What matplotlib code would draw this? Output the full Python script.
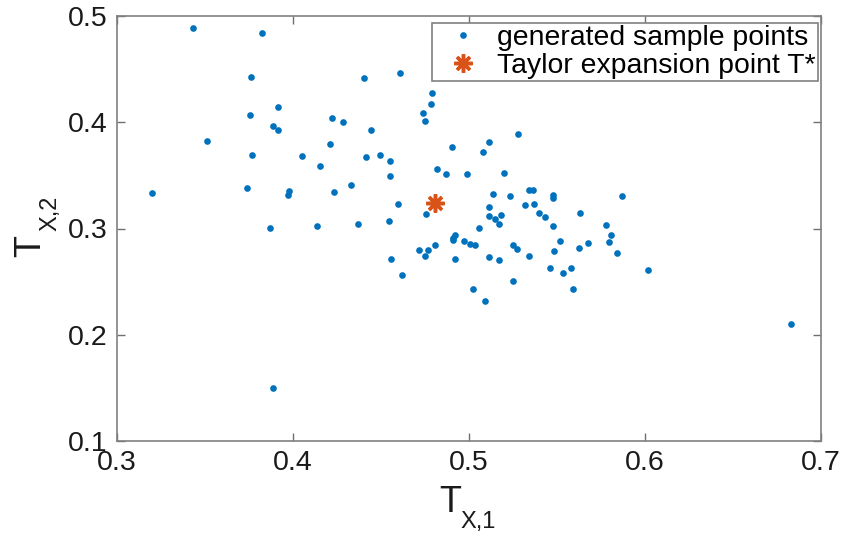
import numpy as np
import matplotlib
matplotlib.use("Agg")
import matplotlib.pyplot as plt

plt.rcParams['font.family'] = ['Liberation Sans', 'DejaVu Sans']

# sample points
tx1 = [0.3432, 0.3822, 0.3763, 0.3915, 0.3756, 0.4220, 0.4282, 0.3888, 0.3917, 0.3513,
       0.4208, 0.3767, 0.4051, 0.4153, 0.4327, 0.3197, 0.3739, 0.3979, 0.3973, 0.4235,
       0.3869, 0.4138, 0.4405, 0.4606, 0.4790, 0.4782, 0.4740, 0.4748, 0.4443, 0.5280,
       0.5112, 0.4905, 0.5080, 0.4417, 0.4494, 0.4553, 0.4553, 0.4818, 0.4869, 0.4990,
       0.5197, 0.5339, 0.5365, 0.5138, 0.5233, 0.5479, 0.5479, 0.4595, 0.5116, 0.5316,
       0.5371, 0.4754, 0.5115, 0.5182, 0.5150, 0.5172, 0.5399, 0.5434, 0.5631, 0.5477,
       0.4369, 0.4545, 0.5057, 0.5777, 0.5807, 0.5797, 0.5839, 0.4919, 0.4910, 0.4907,
       0.4970, 0.5004, 0.5034, 0.4809, 0.4714, 0.4767, 0.4752, 0.5519, 0.5481, 0.5625,
       0.5676, 0.5252, 0.5271, 0.5339, 0.5114, 0.5169, 0.4919, 0.4557, 0.4618, 0.5460,
       0.5532, 0.5578, 0.5591, 0.5252, 0.5024, 0.5093, 0.3885, 0.6017, 0.6831, 0.5869]
tx2 = [0.4890, 0.4840, 0.4430, 0.4145, 0.4066, 0.4040, 0.4000, 0.3969, 0.3931, 0.3827,
       0.3795, 0.3689, 0.3679, 0.3588, 0.3412, 0.3330, 0.3377, 0.3352, 0.3318, 0.3346,
       0.3007, 0.3028, 0.4418, 0.4459, 0.4274, 0.4176, 0.4088, 0.4009, 0.3931, 0.3890,
       0.3811, 0.3767, 0.3717, 0.3673, 0.3695, 0.3639, 0.3497, 0.3560, 0.3513, 0.3513,
       0.3519, 0.3365, 0.3365, 0.3324, 0.3302, 0.3314, 0.3290, 0.3226, 0.3205, 0.3217,
       0.3229, 0.3139, 0.3116, 0.3129, 0.3085, 0.3038, 0.3148, 0.3107, 0.3148, 0.3022,
       0.3047, 0.3069, 0.3003, 0.3031, 0.2940, 0.2877, 0.2771, 0.2940, 0.2915, 0.2893,
       0.2884, 0.2858, 0.2849, 0.2843, 0.2802, 0.2799, 0.2745, 0.2884, 0.2792, 0.2821,
       0.2861, 0.2846, 0.2811, 0.2742, 0.2733, 0.2708, 0.2714, 0.2714, 0.2560, 0.2632,
       0.2578, 0.2632, 0.2431, 0.2507, 0.2434, 0.2321, 0.1497, 0.2607, 0.2097, 0.3305]

t_star = [0.4805, 0.3242]

xticks = [0.3, 0.4, 0.5, 0.6, 0.7]
yticks = [0.1, 0.2, 0.3, 0.4, 0.5]

W, H = 843, 533
fig = plt.figure(figsize=(W / 100, H / 100), dpi=100)
ax = fig.add_axes([117 / W, 1 - 441 / H, 704 / W, 425 / H])

ax.plot(tx1, tx2, 'o', color='#0072BD', markersize=4.8, markeredgewidth=0,
        label='generated sample points')
ax.plot(t_star[0], t_star[1], marker=(8, 2, 0), linestyle='none', color='#D95319',
        markersize=13, markeredgewidth=2.5, label='Taylor expansion point T*')

ax.set_xlim(0.3, 0.7)
ax.set_ylim(0.1, 0.5)
ax.set_xticks(xticks)
ax.set_yticks(yticks)
ax.set_xticklabels([f'{v:g}' for v in xticks])
ax.set_yticklabels([f'{v:g}' for v in yticks])
ax.tick_params(direction='in', top=True, right=True, length=6, width=1,
               color='#707070', labelsize=20.5, labelcolor='#1a1a1a')
ax.tick_params(axis='x', pad=6.5)
ax.tick_params(axis='y', pad=6.5)
for s in ax.spines.values():
    s.set_color('#808080')
    s.set_linewidth(1.2)

# axis labels: big T with a lowered subscript, as in the original
lab = dict(color='#1a1a1a', rotation_mode='anchor', ha='left', va='baseline')
fig.text(439 / W, 1 - 512 / H, 'T', fontsize=26, **lab)
fig.text(460 / W, 1 - 528 / H, 'X,1', fontsize=17, **lab)
fig.text(40 / W, 1 - 257 / H, 'T', fontsize=26, rotation=90, **lab)
fig.text(56 / W, 1 - 231 / H, 'X,2', fontsize=17, rotation=90, **lab)

leg = ax.legend(loc='upper right', bbox_to_anchor=(0.9957, 0.984), borderaxespad=0,
                fontsize=20.4, fancybox=False, framealpha=1, edgecolor='#808080',
                handlelength=2.0, handletextpad=0.2, borderpad=0.08, labelspacing=0.06)
leg.get_frame().set_linewidth(1.2)

fig.savefig('out.png', dpi=100)
